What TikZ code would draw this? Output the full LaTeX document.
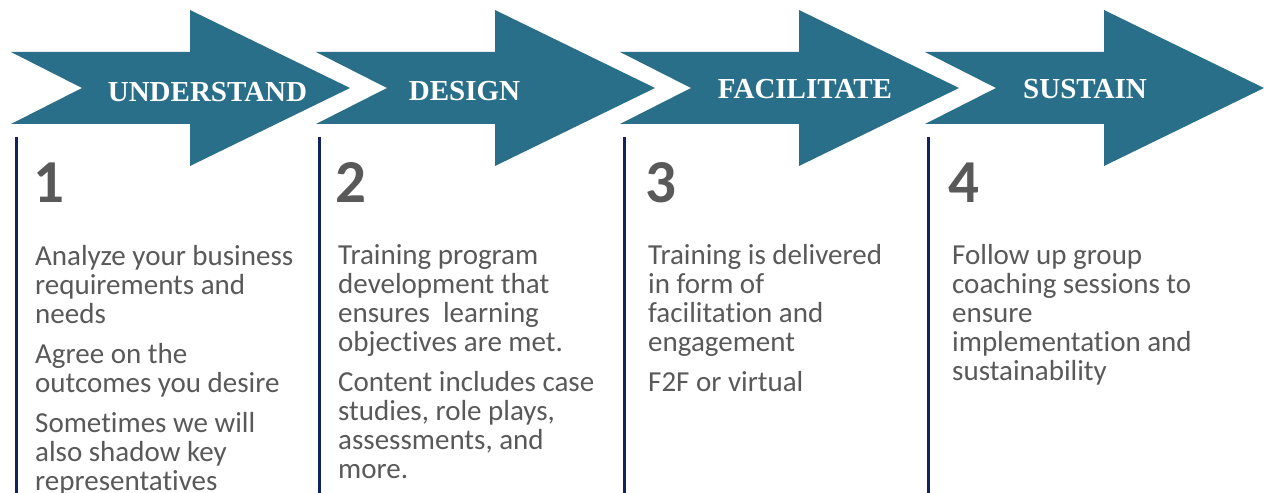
\documentclass[tikz,border=0pt]{standalone}
\usepackage{fontspec}
\setmainfont{Carlito}[Ligatures={NoCommon,NoDiscretionary,NoRare}]
\newfontfamily\labelfont{Liberation Serif}
\definecolor{arrowblue}{HTML}{2A6F8A}
\definecolor{navyline}{HTML}{0E235F}
\definecolor{bodygray}{HTML}{595959}
\begin{document}
\begin{tikzpicture}[x=1bp,y=-1bp,
  arrowshape/.style={fill=arrowblue,draw=none},
  steplabel/.style={font=\labelfont\bfseries\fontsize{29bp}{29bp}\selectfont, text=white, anchor=base, inner sep=0},
  stepnum/.style={font=\bfseries\fontsize{61bp}{61bp}\selectfont, text=bodygray, anchor=base west, inner sep=0},
  stepbody/.style={font=\fontsize{29bp}{28.8bp}\selectfont, text=bodygray, anchor=base west, inner sep=0},
  divider/.style={draw=navyline, line width=3bp}]
\useasboundingbox[fill=white] (0,0) rectangle (1264,493);
% arrows
\foreach \L in {11,316,620,925} {
  \fill[arrowshape] (\L,52) -- ({\L+179},52) -- ({\L+179},10) -- ({\L+339},88)
    -- ({\L+179},166) -- ({\L+179},124) -- (\L,124) -- ({\L+71},88) -- cycle;
}
\node[steplabel] (lab1) at (207.5,102) {UNDERSTAND};
\node[steplabel] (lab2) at (464.5,101) {DESIGN};
\node[steplabel] (lab3) at (805,99) {FACILITATE};
\node[steplabel] (lab4) at (1085,99) {SUSTAIN};
% dividers
\coordinate (d1t) at (16,137);  \coordinate (d1b) at (16,493);
\coordinate (d2t) at (319,137); \coordinate (d2b) at (319,493);
\coordinate (d3t) at (624,137); \coordinate (d3b) at (624,493);
\coordinate (d4t) at (928,137); \coordinate (d4b) at (928,493);
\draw[divider] (d1t) -- (d1b);
\draw[divider] (d2t) -- (d2b);
\draw[divider] (d3t) -- (d3b);
\draw[divider] (d4t) -- (d4b);
% numbers
\node[stepnum] (n1) at (33,203) {1};
\node[stepnum] (n2) at (335,203) {2};
\node[stepnum] (n3) at (645,203) {3};
\node[stepnum] (n4) at (948,203) {4};
% bodies
\node[stepbody] (b1) at (35,265.5) {\parbox[t]{280bp}{\raggedright\setlength{\parskip}{11.5bp}%
Analyze your business\\ requirements and\\ needs\par
Agree on the\\ outcomes you desire\par
Sometimes we will\\ also shadow key\\ representatives}};
\node[stepbody] (b2) at (338,265) {\parbox[t]{280bp}{\raggedright\setlength{\parskip}{11.5bp}%
Training program\\ development that\\ ensures\ \ learning\\ objectives are met.\par
Content includes case\\ studies, role plays,\\ assessments, and\\ more.}};
\node[stepbody] (b3) at (648,265) {\parbox[t]{280bp}{\raggedright\setlength{\parskip}{11.5bp}%
Training is delivered\\ in form of\\ facilitation and\\ engagement\par
F2F or virtual}};
\node[stepbody] (b4) at (952,265) {\parbox[t]{280bp}{\raggedright\setlength{\parskip}{11.5bp}%
Follow up group\\ coaching sessions to\\ ensure\\ implementation and\\ sustainability}};
\end{tikzpicture}
\end{document}
